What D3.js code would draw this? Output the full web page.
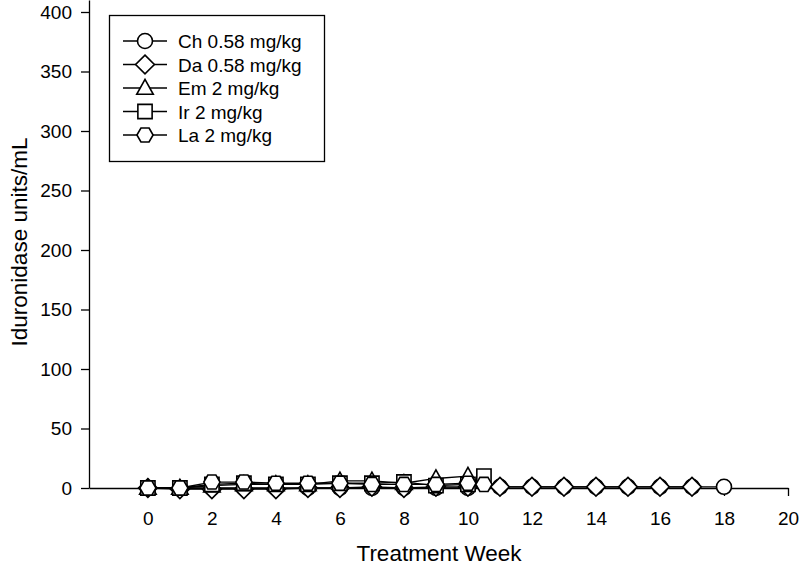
<!DOCTYPE html>
<html><head><meta charset="utf-8">
<script src="https://cdn.jsdelivr.net/npm/d3@7"></script>
<style>body{margin:0;background:#fff}svg{display:block;font-family:"Liberation Sans",Arial,sans-serif}</style>
</head><body><svg id="c" width="800" height="567"></svg>
<script>
const seriesNames = ["Ch 0.58 mg/kg","Da 0.58 mg/kg","Em 2 mg/kg","Ir 2 mg/kg","La 2 mg/kg"];
const seriesShapes = ["circle","diamond","triangle","square","hexagon"];
const weeksCh = [0,1,2,3,4,5,6,7,8,9,10,11,12,13,14,15,16,17,18];
const valuesCh = [0,0,0,0,0,0,0,0,0,0,0,1,1,1,1,1,1,1,1];
const weeksDa = [0,1,2,3,4,5,6,7,8,9,10,11,12,13,14,15,16,17];
const valuesDa = [0,-1,-1,-1,-1,0,0,1,0,1,1,1,1,1,1,1,1,1];
const weeksEm = [0,1,2,3,4,5,6,7,8,9,10];
const valuesEm = [0,0,2,3,3,3,6,6,4,8,10];
const weeksIr = [0,1,2,3,4,5,6,7,8,9,10,10.5];
const valuesIr = [0,0,3,4,3,3,4,4,5,2,3,10];
const weeksLa = [0,1,2,3,4,5,6,7,8,9,10,10.5];
const valuesLa = [0,0,5,5,4,4,4,3,3,3,4,3];
const xTicks = [0,2,4,6,8,10,12,14,16,18,20];
const yTicks = [0,50,100,150,200,250,300,350,400];

const series = [
  {name:seriesNames[0],shape:seriesShapes[0],w:weeksCh,v:valuesCh},
  {name:seriesNames[1],shape:seriesShapes[1],w:weeksDa,v:valuesDa},
  {name:seriesNames[2],shape:seriesShapes[2],w:weeksEm,v:valuesEm},
  {name:seriesNames[3],shape:seriesShapes[3],w:weeksIr,v:valuesIr},
  {name:seriesNames[4],shape:seriesShapes[4],w:weeksLa,v:valuesLa}
];

const svg = d3.select("#c");
const L = 89, R = 788, T = 0, B = 488;
const x = d3.scaleLinear().domain([-1.84, 20]).range([L, R]);
const y = d3.scaleLinear().domain([0, 400]).range([B, 12]);
y.domain([0, y.invert(T)]).range([B, T]);

function shapePath(shape, r) {
  if (shape === "circle") return d3.symbol(d3.symbolCircle, Math.PI*r*r)();
  if (shape === "diamond") { const a=r*1.25; return `M0,${-a}L${a},0L0,${a}L${-a},0Z`; }
  if (shape === "triangle") { const a=r*1.05; return `M0,${-a*1.1}L${a*1.05},${a*0.8}L${-a*1.05},${a*0.8}Z`; }
  if (shape === "square") { const a=r*0.95; return `M${-a},${-a}H${a}V${a}H${-a}Z`; }
  if (shape === "hexagon") {
    const pts = d3.range(6).map(i => { const ang = Math.PI/6 + i*Math.PI/3 - Math.PI/2; return [r*1.08*Math.cos(ang), r*1.08*Math.sin(ang)]; });
    return "M" + pts.map(p => p.join(",")).join("L") + "Z";
  }
}

const font = '"Liberation Sans",Arial,sans-serif';
// axes
const xAxis = svg.append("g").attr("transform", `translate(0,${B})`)
  .call(d3.axisBottom(x).tickValues(xTicks).tickSize(8).tickPadding(12).tickSizeOuter(0));
const yAxis = svg.append("g").attr("transform", `translate(${L},0)`)
  .call(d3.axisLeft(y).tickValues(yTicks).tickSize(8).tickPadding(9).tickSizeOuter(0));
[xAxis, yAxis].forEach(g => {
  g.attr("font-size", 19).attr("font-family", font);
  g.select(".domain").attr("stroke", "#000").attr("stroke-width", 1.3);
  g.selectAll(".tick line").attr("stroke", "#000").attr("stroke-width", 1.3);
  g.selectAll(".tick text").attr("fill", "#000");
});
xAxis.selectAll(".tick text").attr("dy", null).attr("y", 37);

svg.append("text").attr("x", 439).attr("y", 561).attr("text-anchor", "middle")
  .style("font-size", "22.5px").text("Treatment Week");
svg.append("text").attr("transform", "translate(27,242) rotate(-90)").attr("text-anchor", "middle")
  .style("font-size", "22.5px").text("Iduronidase units/mL");

const r = 7.5;
const line = d3.line().x(d => x(d[0])).y(d => y(d[1]));
series.forEach(s => {
  const pts = s.w.map((w, i) => [w, s.v[i]]);
  svg.append("path").attr("d", line(pts)).attr("fill", "none").attr("stroke", "#000").attr("stroke-width", 1.3);
  svg.append("g").selectAll("path").data(pts).join("path")
    .attr("transform", d => `translate(${x(d[0])},${y(d[1])})`)
    .attr("d", shapePath(s.shape, r))
    .attr("fill", "#fff").attr("stroke", "#000").attr("stroke-width", 1.6);
});

// legend
const lg = svg.append("g");
lg.append("rect").attr("x", 109.5).attr("y", 15.5).attr("width", 215).attr("height", 146)
  .attr("fill", "#fff").attr("stroke", "#000").attr("stroke-width", 1.3);
const rowY = d3.scalePoint().domain(seriesNames).range([41, 135]);
series.forEach(s => {
  const yy = rowY(s.name);
  lg.append("line").attr("x1", 123).attr("x2", 167).attr("y1", yy).attr("y2", yy).attr("stroke", "#000").attr("stroke-width", 1.3);
  lg.append("path").attr("transform", `translate(145,${yy})`).attr("d", shapePath(s.shape, r))
    .attr("fill", "#fff").attr("stroke", "#000").attr("stroke-width", 1.6);
  lg.append("text").attr("x", 178).attr("y", yy + 7).style("font-size", "19px").text(s.name);
});
</script></body></html>
